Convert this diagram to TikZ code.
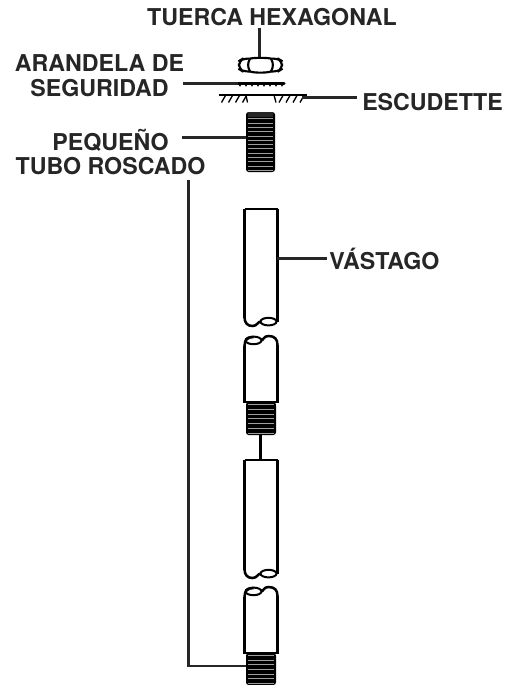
\documentclass[tikz,border=0pt]{standalone}
\usepackage{fontspec}
\setmainfont{TeX Gyre Heros}
\newcommand{\threadfill}[5]{% x1 x2 y1 y2 n
  \fill[black,rounded corners=2] (#1,#3) rectangle (#2,#4);
  \foreach \i in {1,...,#5}{
    \pgfmathsetmacro{\yy}{#3+(#4-#3)*(\i-0.4)/(#5)}
    \draw[white!62!black,line width=0.75] (#1+2,\yy) -- (#2-2,\yy);
  }
}
\newcommand{\pipetop}[3]{% xl xr ytop
  \draw[tubeline] (#1,#3+10) .. controls (#1,#3+4) and (#1+3,#3+1) .. (#1+9,#3+1);
  \draw[tubeline] (#1+16.5,#3+4.5) .. controls (#1+19,#3+4.5) and (#1+19,#3) .. (#1+24,#3)
     .. controls (#2-3,#3) and (#2,#3+3) .. (#2,#3+9);
  \draw[tubeline,line width=1.5] (#1+9,#3+4.4) ellipse (8 and 3.8);
}
\newcommand{\pipebot}[3]{% xl xr ybot
  \draw[tubeline] (#1,#3-9) .. controls (#1,#3-3) and (#1+3,#3) .. (#1+8,#3)
     .. controls (#1+13,#3) and (#1+13,#3-4.5) .. (#1+16.5,#3-4.5);
  \draw[tubeline,line width=1.5] (#2-9,#3-4.4) ellipse (8 and 3.8);
  \draw[tubeline] (#2,#3-9) -- (#2,#3-4);
}
\begin{document}
\begin{tikzpicture}[x=0.75pt,y=-0.75pt,
  leader/.style={line width=2,black!85},
  tubeline/.style={line width=1.9,black},
  nutline/.style={line width=1.6,black},
  lab/.style={font=\fontsize{17.4}{18.4}\selectfont\bfseries,text=black!85,inner sep=0,align=center}]
\useasboundingbox (0,0) rectangle (515,685);
\fill[white] (0,0) rectangle (515,685);
% labels
\node[lab,anchor=center] (tuerca) at (272,17.5) {TUERCA HEXAGONAL};
\node[lab,anchor=center] (arandela) at (99.5,75.5) {ARANDELA DE\\SEGURIDAD};
\node[lab,anchor=west] (escudette) at (362,102.5) {ESCUDETTE};
\node[lab,anchor=center] (pequeno) at (110.5,152) {PEQUEÑO\\TUBO ROSCADO};
\node[lab,anchor=west] (vastago) at (329,258.5) {VÁSTAGO};
% nut
\draw[leader] (259.5,28) -- (259.5,58);
\draw[nutline,rounded corners=4] (250,58.6) -- (243,58.6) -- (239,61) -- (239,69) -- (243,71.5) -- (250,71.5);
\draw[nutline,rounded corners=4] (271,58.6) -- (278,58.6) -- (282,61) -- (282,69) -- (278,71.5) -- (271,71.5);
\draw[nutline] (250,58.6) .. controls (254,57.6) and (267,57.6) .. (271,58.6);
\draw[nutline] (250,71.5) .. controls (254,73) and (267,73) .. (271,71.5);
\draw[nutline] (250,58.6) .. controls (247.5,63) and (247.5,67) .. (250,71.5);
\draw[nutline] (271,58.6) .. controls (273.5,63) and (273.5,67) .. (271,71.5);
% washer
\draw[line width=2.6,black,line cap=round] (238,83.3) -- (284,83.3);
\foreach \x in {240,246,...,282} \fill (\x,85.6) circle (1);
\draw[leader] (183,83.3) -- (238,83.3);
% escutcheon
\draw[line width=1.4] (219,95) -- (307,95);
\foreach \x in {224,231,238,245} \draw[line width=1] (\x+1.5,95.5) -- (\x-2.5,102.5);
\draw[line width=1] (246,95) -- (247.5,102.5);
\draw[line width=1] (274,95) -- (276,102.5);
\foreach \x in {283,290,297,304} \draw[line width=1] (\x-0,95.5) -- (\x-4,102.5);
\draw[leader] (302,97.4) -- (357,97.4);
% top thread
\threadfill{246}{275}{112}{172}{14}
\fill[black!85] (248,112) rectangle (273,117);
\draw[leader] (182,137.5) -- (246,137.5);
% tube 1
\draw[tubeline] (244.5,209) -- (277.5,209);
\draw[tubeline] (244.5,209) -- (244.5,318);
\draw[tubeline] (277.5,209) -- (277.5,318);
\pipebot{244.5}{277.5}{326}
\draw[leader] (277,258.5) -- (327,258.5);
% tube 2
\pipetop{244.5}{277.5}{336}
\draw[tubeline] (244.5,346) -- (244.5,402) -- (277.5,402) -- (277.5,345);
\threadfill{246}{276}{402}{435}{7}
\draw[line width=1.6] (260.5,435) -- (260.5,460);
% tube 3
\draw[tubeline] (244.5,460) -- (277.5,460);
\draw[tubeline] (244.5,460) -- (244.5,570);
\draw[tubeline] (277.5,460) -- (277.5,570);
\pipebot{244.5}{277.5}{578}
% tube 4
\pipetop{244.5}{277.5}{587}
\draw[tubeline] (244.5,597) -- (244.5,653) -- (277.5,653) -- (277.5,596);
\threadfill{246}{276}{653}{685}{7}
% long leader
\draw[leader] (188.5,180) -- (188.5,666) -- (246,666);
\end{tikzpicture}
\end{document}
